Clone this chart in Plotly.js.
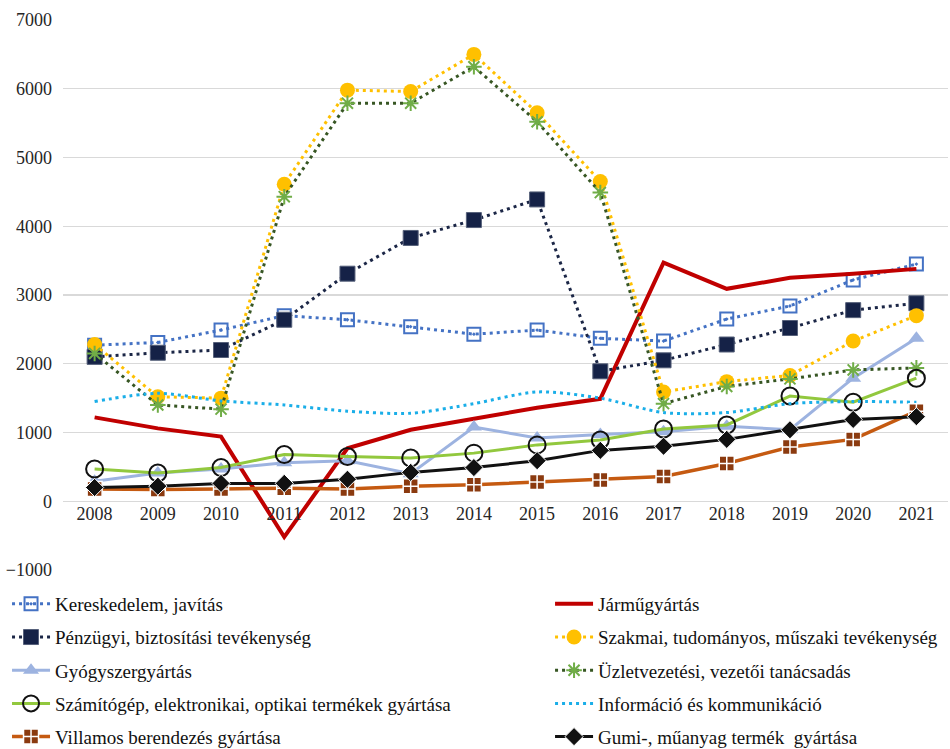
<!DOCTYPE html>
<html>
<head>
<meta charset="utf-8">
<script src="https://cdn.plot.ly/plotly-3.0.1.min.js"></script>
<style>html,body{margin:0;padding:0;background:#fff;}#chart{width:950px;height:749px;}</style>
</head>
<body>
<div id="chart"></div>
<script>
const years = [2008,2009,2010,2011,2012,2013,2014,2015,2016,2017,2018,2019,2020,2021];

const kereskedelem = [2270,2310,2490,2700,2640,2540,2430,2490,2370,2330,2650,2840,3220,3450];
const jarmu        = [1220,1060,940,-520,770,1040,1200,1360,1490,3470,3090,3250,3310,3380];
const penzugyi     = [2100,2160,2200,2640,3310,3830,4090,4390,1890,2050,2280,2520,2780,2880];
const szakmai      = [2280,1520,1500,4610,5980,5960,6500,5650,4650,1590,1740,1830,2330,2700];
const gyogyszer    = [290,410,470,560,590,400,1080,920,970,1010,1090,1040,1790,2370];
const uzlet        = [2150,1400,1340,4430,5790,5790,6320,5520,4490,1420,1670,1780,1910,1940];
const szamitogep   = [470,410,490,680,650,630,700,820,890,1050,1110,1530,1440,1790];
const informacio   = [1450,1570,1460,1400,1310,1280,1420,1590,1500,1290,1290,1420,1450,1440];
const villamos     = [180,170,180,190,180,220,240,280,310,360,550,790,900,1310];
const gumi         = [200,220,260,260,320,420,490,590,740,800,900,1040,1190,1230];

const names = [
  'Kereskedelem, javítás',
  'Járműgyártás',
  'Pénzügyi, biztosítási tevékenység',
  'Szakmai, tudományos, műszaki tevékenység',
  'Gyógyszergyártás',
  'Üzletvezetési, vezetői tanácsadás',
  'Számítógép, elektronikai, optikai termékek gyártása',
  'Információ és kommunikáció',
  'Villamos berendezés gyártása',
  'Gumi-, műanyag termék  gyártása'
];

const dotDash = '3px,4px';

const traces = [
  {y: kereskedelem, name: names[0], line:{color:'#4472C4', width:3, dash:dotDash},
   marker:{symbol:'square-open-dot', size:13, color:'#4472C4', line:{width:2, color:'#4472C4'}}, mode:'lines+markers', legend:'legend'},
  {y: jarmu, name: names[1], line:{color:'#C00000', width:4}, mode:'lines', legend:'legend2'},
  {y: penzugyi, name: names[2], line:{color:'#1B2646', width:3, dash:dotDash},
   marker:{symbol:'square', size:15, color:'#152247', line:{width:1, color:'#56607a'}}, mode:'lines+markers', legend:'legend'},
  {y: szakmai, name: names[3], line:{color:'#FFC000', width:3, dash:dotDash},
   marker:{symbol:'circle', size:15, color:'#FFC000', line:{width:0}}, mode:'lines+markers', legend:'legend2'},
  {y: gyogyszer, name: names[4], line:{color:'#9DB3E0', width:3},
   marker:{symbol:'triangle-up', size:14, color:'#9DB3E0', line:{width:0}}, mode:'lines+markers', legend:'legend'},
  {y: uzlet, name: names[5], line:{color:'#375623', width:3, dash:dotDash},
   marker:{symbol:'asterisk-open', size:13, color:'#70AD47', line:{width:2, color:'#70AD47'}}, mode:'lines+markers', legend:'legend2'},
  {y: szamitogep, name: names[6], line:{color:'#92C83E', width:3},
   marker:{symbol:'circle-open', size:17, color:'#111111', line:{width:2, color:'#111111'}}, mode:'lines+markers', legend:'legend'},
  {y: informacio, name: names[7], line:{color:'#1AAEE8', width:3, dash:dotDash, shape:'spline', smoothing:0.8}, mode:'lines', legend:'legend2'},
  {y: villamos, name: names[8], line:{color:'#C55A11', width:3.5},
   marker:{symbol:'square-cross', size:15, color:'#8B3A0F', line:{width:1.5, color:'#FFFFFF'}}, mode:'lines+markers', legend:'legend'},
  {y: gumi, name: names[9], line:{color:'#111111', width:3},
   marker:{symbol:'diamond', size:14, color:'#111111', line:{width:1, color:'#FFFFFF'}}, mode:'lines+markers', legend:'legend2'}
].map((t, i) => Object.assign({x: years, type:'scatter', legendgroup:'g'+i, hoverinfo:'skip'}, t));

const serif = 'Liberation Serif, Times New Roman, serif';
const font = {family: serif, size:18, color:'#262626'};
const legendFont = {family: serif, size:19, color:'#111111'};

const layout = {
  width: 950, height: 749,
  margin: {l:63, r:2, t:20, b:179, autoexpand:false},
  paper_bgcolor:'#ffffff', plot_bgcolor:'#ffffff',
  font: font,
  showlegend: true,
  xaxis: {
    range:[2007.5, 2021.5], dtick:1, tick0:2008, showgrid:false, zeroline:false, showline:false,
    anchor:'free', position:0.125, ticks:'', tickfont:font, fixedrange:true
  },
  yaxis: {
    range:[-1000, 7000], dtick:1000, tick0:0, showgrid:true, gridcolor:'#D9D9D9', gridwidth:1.3,
    zeroline:true, zerolinecolor:'#D9D9D9', zerolinewidth:1.3, showline:false, ticks:'',
    ticklabelstandoff:10, tickfont:font, fixedrange:true, tickformat:'d'
  },
  legend: {
    xref:'container', yref:'container',
    x:0.0074, y:0.219, xanchor:'left', yanchor:'top', orientation:'v',
    tracegroupgap:5.5, font:legendFont, bgcolor:'rgba(0,0,0,0)', itemwidth:38
  },
  legend2: {
    xref:'container', yref:'container',
    x:0.579, y:0.219, xanchor:'left', yanchor:'top', orientation:'v',
    tracegroupgap:5.5, font:legendFont, bgcolor:'rgba(0,0,0,0)', itemwidth:38
  }
};

Plotly.newPlot('chart', traces, layout, {staticPlot:true, displayModeBar:false});
</script>
</body>
</html>
